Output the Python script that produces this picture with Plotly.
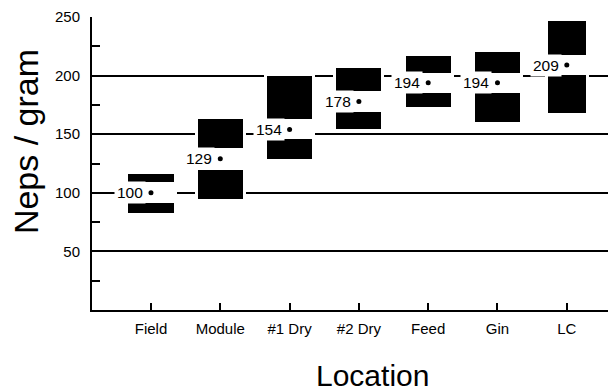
import plotly.graph_objects as go

locations = ["Field", "Module", "#1 Dry", "#2 Dry", "Feed", "Gin", "LC"]
upper_top = [116.4, 162.6, 199.6, 206.4, 216.7, 220.4, 246.6]
upper_bottom = [109.0, 138.4, 163.2, 186.8, 202.5, 202.5, 217.5]
lower_top = [91.4, 119.8, 145.5, 169.1, 185.4, 185.4, 200.2]
lower_bottom = [82.8, 94.8, 129.2, 154.6, 173.1, 160.3, 167.7]
means = [100, 129, 154, 178, 194, 194, 209]
y_ticks = [50, 100, 150, 200, 250]
y_minor_ticks = [25, 75, 125, 175, 225]

box_width = [0.65, 0.65, 0.65, 0.65, 0.65, 0.65, 0.54]
FONT = "Liberation Sans, Arial, sans-serif"

fig = go.Figure()
# white backing (hides gridlines around each box group)
fig.add_trace(go.Bar(
    x=locations,
    y=[t - b for t, b in zip(upper_top, lower_bottom)],
    base=lower_bottom,
    width=box_width,
    marker=dict(color="white", line=dict(color="white", width=6)),
    hoverinfo="skip", showlegend=False,
))
fig.add_trace(go.Bar(
    x=locations,
    y=[t - b for t, b in zip(upper_top, upper_bottom)],
    base=upper_bottom,
    width=box_width,
    marker=dict(color="black", line=dict(width=0)),
    showlegend=False,
))
fig.add_trace(go.Bar(
    x=locations,
    y=[t - b for t, b in zip(lower_top, lower_bottom)],
    base=lower_bottom,
    width=box_width,
    marker=dict(color="black", line=dict(width=0)),
    showlegend=False,
))
fig.add_trace(go.Scatter(
    x=locations, y=means, mode="markers",
    marker=dict(color="black", size=5),
    showlegend=False,
))

for loc, m in zip(locations, means):
    fig.add_annotation(
        x=loc, y=m, xref="x", yref="y", text=str(m), showarrow=False,
        xanchor="right", yanchor="middle", xshift=-5,
        bgcolor="white", borderpad=2,
        font=dict(family=FONT, size=15.5, color="black"),
    )

fig.add_annotation(
    x=0, xref="paper", xshift=-66, y=0.573, yref="paper",
    text="Neps / gram", textangle=-90, showarrow=False,
    xanchor="center", yanchor="middle", borderpad=0,
    font=dict(family=FONT, size=34, color="black"),
)
fig.add_annotation(
    x=(372 - 92) / 524, xref="paper", y=-0.222, yref="paper",
    text="Location", showarrow=False,
    xanchor="center", yanchor="middle", borderpad=0,
    font=dict(family=FONT, size=30, color="black"),
)

# page body adds an 8px margin, so the figure is sized/offset to compensate
fig.update_layout(
    width=608, height=383,
    margin=dict(l=84, r=0, t=9, b=81, autoexpand=False),
    paper_bgcolor="white", plot_bgcolor="white",
    barmode="overlay", bargap=0,
    font=dict(family=FONT, size=15, color="black"),
)
fig.update_xaxes(
    type="category", range=[-0.851, 6.71], automargin=False,
    showline=True, linecolor="black", linewidth=2,
    ticks="inside", ticklen=7, tickwidth=2, tickcolor="black",
    showgrid=False, zeroline=False,
    ticklabelstandoff=4,
    tickfont=dict(family=FONT, size=15, color="black"),
)
fig.update_yaxes(
    range=[0, 250], automargin=False,
    tickvals=y_ticks, ticktext=[str(v) for v in y_ticks],
    showline=True, linecolor="black", linewidth=2,
    ticks="inside", ticklen=8, tickwidth=2, tickcolor="black",
    showgrid=True, gridcolor="black", gridwidth=1.6,
    zeroline=False,
    ticklabelstandoff=7,
    tickfont=dict(family=FONT, size=15, color="black"),
    minor=dict(tickvals=y_minor_ticks, ticks="inside", ticklen=8,
               tickwidth=2, tickcolor="black", showgrid=False),
)

fig.write_html("out.html")
